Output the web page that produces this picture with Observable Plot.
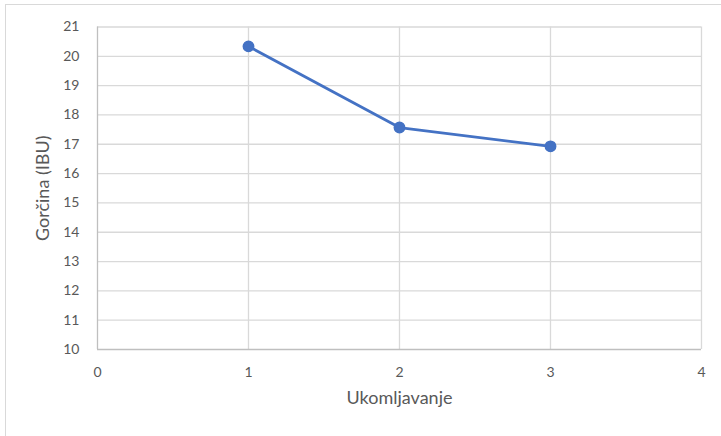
<!DOCTYPE html>
<html>
<head>
<meta charset="utf-8">
<script src="https://cdn.jsdelivr.net/npm/d3@7"></script>
<script src="https://cdn.jsdelivr.net/npm/@observablehq/plot@0.6"></script>
<style>
  html, body { margin: 0; padding: 0; background: #fff; }
  #wrap { position: relative; width: 721px; height: 436px; overflow: hidden; }
  #frame { position: absolute; left: 5px; top: 4px; width: 800px; height: 500px;
           border-top: 1px solid #d9d9d9; border-left: 1.5px solid #d9d9d9; box-sizing: border-box; }
  #chart { position: absolute; left: 0; top: 0; }
</style>
</head>
<body>
<div id="wrap"><div id="frame"></div><div id="chart"></div></div>
<script>
const rounds = [1, 2, 3];
const bitterness = [20.34, 17.57, 16.93];
const xTicks = [0, 1, 2, 3, 4];
const yTicks = [10, 11, 12, 13, 14, 15, 16, 17, 18, 19, 20, 21];
const xTitle = "Ukomljavanje";
const yTitle = "Gorčina (IBU)";

const data = rounds.map((r, i) => ({x: r, y: bitterness[i]}));
const textColor = "#595959";
const gridColor = "#d9d9d9";

const chart = Plot.plot({
  width: 721,
  height: 436,
  marginLeft: 97,
  marginRight: 20,
  marginTop: 26.5,
  marginBottom: 87,
  style: {fontFamily: "Lato", fontSize: "14px", color: textColor, background: "transparent"},
  x: {domain: [0, 4], ticks: xTicks, tickSize: 0, tickPadding: 18, label: null},
  y: {domain: [10, 21], ticks: yTicks, tickSize: 0, tickPadding: 18, label: null},
  marks: [
    Plot.ruleY(yTicks.filter(d => d > 10), {stroke: gridColor, strokeWidth: 1.3}),
    Plot.ruleX(xTicks.filter(d => d > 0), {stroke: gridColor, strokeWidth: 1.3}),
    Plot.ruleY([10], {stroke: "#bfbfbf", strokeWidth: 1.3}),
    Plot.ruleX([0], {stroke: "#bfbfbf", strokeWidth: 1.3}),
    Plot.axisX({ticks: xTicks, tickFormat: d3.format("d"), tickSize: 0, tickPadding: 18, fill: textColor, fontSize: 14, label: null}),
    Plot.axisY({ticks: yTicks, tickFormat: d3.format("d"), tickSize: 0, tickPadding: 18, fill: textColor, fontSize: 14, label: null}),
    Plot.line(data, {x: "x", y: "y", stroke: "#4472C4", strokeWidth: 2.8}),
    Plot.dot(data, {x: "x", y: "y", r: 5.2, fill: "#4472C4", stroke: "#4472C4"}),
    Plot.text([xTitle], {frameAnchor: "bottom", textAnchor: "middle", dy: 54, fill: textColor, fontSize: 18}),
    Plot.text([yTitle], {frameAnchor: "left", textAnchor: "middle", dx: -54, rotate: -90, fill: textColor, fontSize: 18})
  ]
});
document.getElementById("chart").appendChild(chart);
</script>
</body>
</html>
